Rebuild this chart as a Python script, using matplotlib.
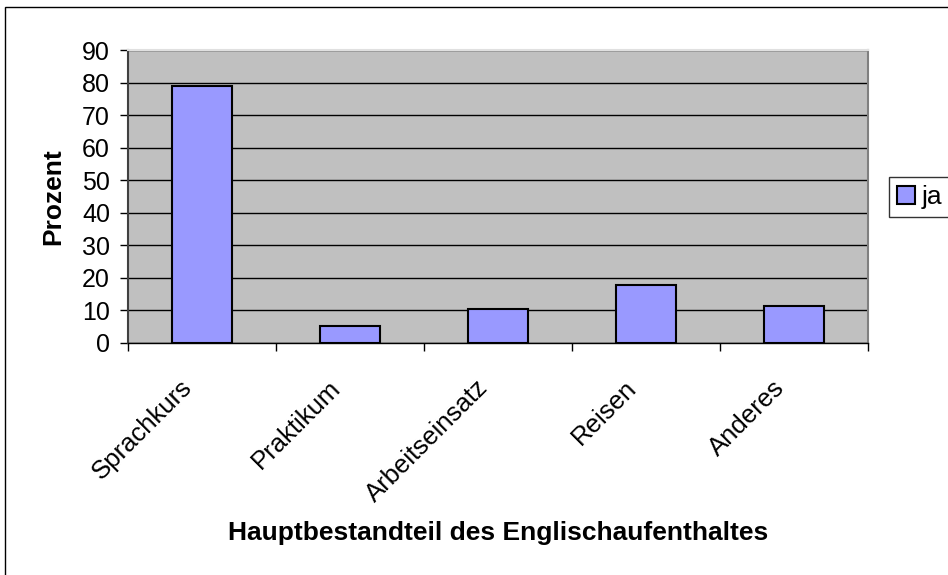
import numpy as np
import matplotlib
matplotlib.use('Agg')
import matplotlib.pyplot as plt
from matplotlib.patches import Rectangle
from matplotlib.transforms import ScaledTranslation

plt.rcParams['font.family'] = ['Liberation Sans', 'DejaVu Sans']

kategorien = ['Sprachkurs', 'Praktikum', 'Arbeitseinsatz', 'Reisen', 'Anderes']
werte_ja = [79.0, 5.2, 10.4, 17.7, 11.5]
y_ticks = [0, 10, 20, 30, 40, 50, 60, 70, 80, 90]

fig = plt.figure(figsize=(9.48, 5.75), dpi=100)
ax = fig.add_axes([128/948, 1 - 343/575, 740/948, 293/575])
ax.set_facecolor('#C0C0C0')

x = np.arange(len(kategorien))
ax.bar(x, werte_ja, width=0.4, color='#9999FF', edgecolor='black',
       linewidth=1.5, label='ja', zorder=3)

ax.set_ylim(0, 90)
ax.set_xlim(-0.5, len(kategorien) - 0.5)
ax.set_yticks(y_ticks)
ax.yaxis.grid(True, color='black', linewidth=1, zorder=1)
ax.set_axisbelow(True)

# Kategorie-Beschriftungen (schräg, leicht links vom Mittelpunkt)
ax.set_xticks(x)
ax.set_xticklabels([])
versatz = ax.get_xaxis_transform() + ScaledTranslation(-0.22, -0.325, fig.dpi_scale_trans)
for xi, name in zip(x, kategorien):
    ax.text(xi, 0, name, transform=versatz, rotation=45, ha='right', va='top',
            rotation_mode='anchor', fontsize=18.5)
ax.set_xticks(np.arange(-0.5, len(kategorien)), minor=True)
ax.tick_params(axis='x', which='major', length=0)
ax.tick_params(axis='x', which='minor', length=6, width=1, direction='out')
ax.tick_params(axis='y', length=6, width=1, direction='out', labelsize=18, pad=7)

for s in ['left', 'right', 'top']:
    ax.spines[s].set_color('#808080')
    ax.spines[s].set_linewidth(1.5)
ax.spines['left'].set_color('#404040')
ax.spines['top'].set_color('#E0E0E0')
ax.spines['bottom'].set_color('black')
ax.spines['bottom'].set_linewidth(1)

ax.set_ylabel('Prozent', fontsize=19, fontweight='bold')
ax.yaxis.set_label_coords(-0.085, 0.5)
ax.set_xlabel('Hauptbestandteil des Englischaufenthaltes', fontsize=19,
              fontweight='bold')
ax.xaxis.set_label_coords(0.5, -0.608)

fig.legend(loc='center left', bbox_to_anchor=(889/948, 1 - 197/575),
           fontsize=19, frameon=True, fancybox=False, edgecolor='black',
           handlelength=0.7, handleheight=0.7, handletextpad=0.25,
           borderpad=0.3, borderaxespad=0)

# Rahmen des Diagrammbereichs
fig.patches.append(Rectangle((5/948, -0.1), 1.2, 1 - 7/575 + 0.1,
                             transform=fig.transFigure, fill=False,
                             edgecolor='black', linewidth=1))

fig.savefig('out.png', dpi=100)
